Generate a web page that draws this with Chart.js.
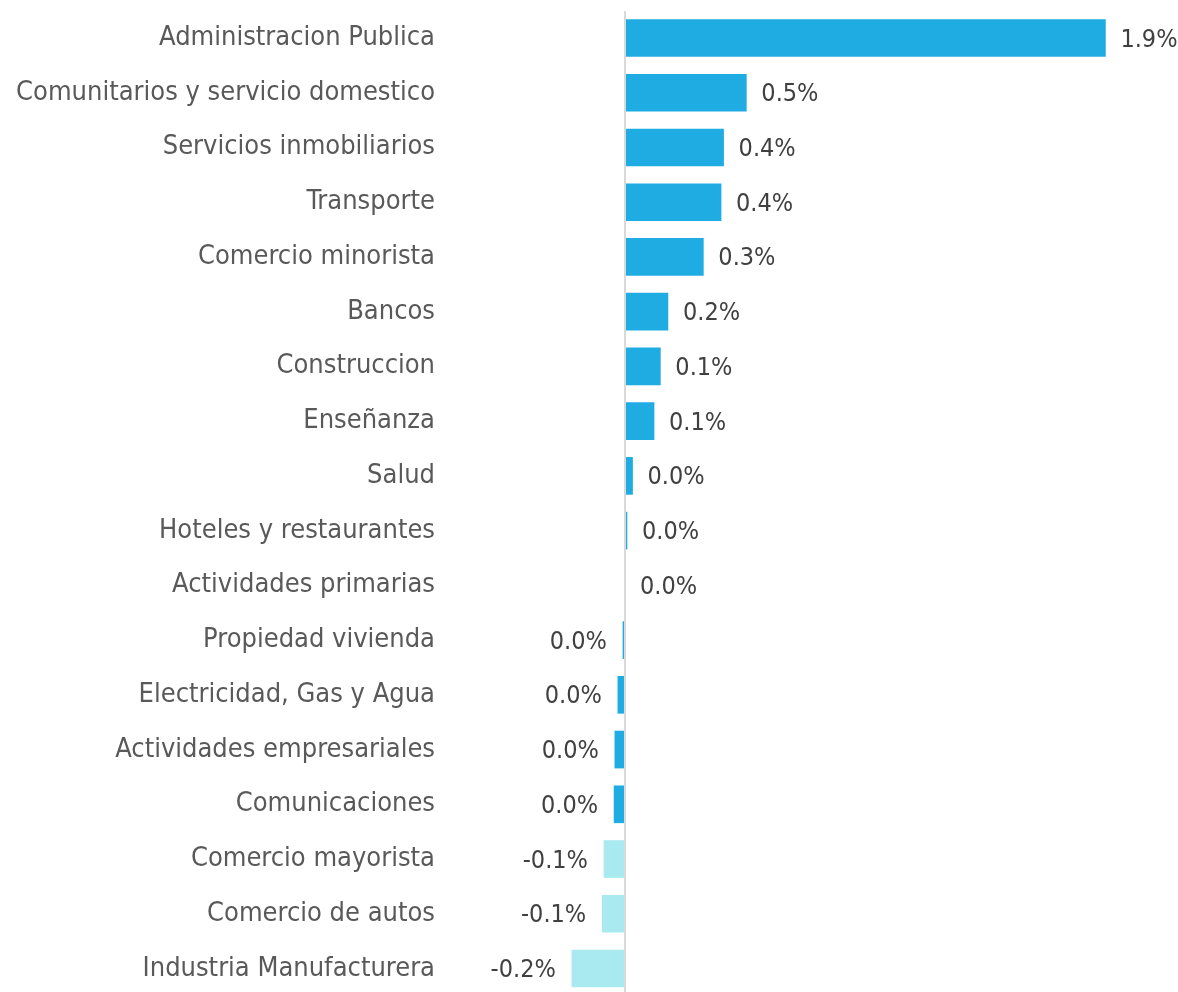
<!DOCTYPE html>
<html>
<head>
<meta charset="utf-8">
<script src="https://cdn.jsdelivr.net/npm/chart.js@4"></script>
<style>
  html, body { margin: 0; padding: 0; background: #fff; }
  #wrap { width: 1178px; height: 992px; position: relative; }
</style>
</head>
<body>
<div id="wrap"><canvas id="barChart"></canvas></div>
<script>
// data
const sectors = [
    'Administracion Publica',
    'Comunitarios y servicio domestico',
    'Servicios inmobiliarios',
    'Transporte',
    'Comercio minorista',
    'Bancos',
    'Construccion',
    'Enseñanza',
    'Salud',
    'Hoteles y restaurantes',
    'Actividades primarias',
    'Propiedad vivienda',
    'Electricidad, Gas y Agua',
    'Actividades empresariales',
    'Comunicaciones',
    'Comercio mayorista',
    'Comercio de autos',
    'Industria Manufacturera'
]
const contributions = [1.90, 0.48, 0.39, 0.38, 0.31, 0.17, 0.14, 0.115, 0.03, 0.008, 0.0,
    -0.008, -0.028, -0.04, -0.043, -0.083, -0.09, -0.21]

// colors
const barBlue = '#1FACE3'
const barLight = '#A9EAF0'
const zeroLineColor = '#d9d9d9'
const labelColor = '#595959'
const valueColor = '#404040'
const fontFamily = '"DejaVu Sans Condensed", "Roboto", sans-serif'

// rounded value decides the colour (-0.1% and below are light)
const barColors = contributions.map(v => (Math.round(v * 10) / 10 < 0 ? barLight : barBlue))

// zero line across the whole height + value labels next to bars
const extrasPlugin = {
    id: 'extras',
    afterDatasetsDraw(chart) {
        const ctx = chart.ctx
        const xScale = chart.scales.x
        const x0 = Math.round(xScale.getPixelForValue(0))
        ctx.save()
        ctx.strokeStyle = zeroLineColor
        ctx.lineWidth = 2
        ctx.beginPath()
        ctx.moveTo(x0, 11)
        ctx.lineTo(x0, chart.height)
        ctx.stroke()

        ctx.font = '25px ' + fontFamily
        ctx.fillStyle = valueColor
        ctx.textBaseline = 'middle'
        const meta = chart.getDatasetMeta(0)
        meta.data.forEach((bar, i) => {
            const v = contributions[i]
            let txt = (Math.round(v * 10) / 10).toFixed(1) + '%'
            if (txt === '-0.0%') txt = '0.0%'
            if (v >= 0) {
                ctx.textAlign = 'left'
                ctx.fillText(txt, Math.max(bar.x, x0) + 15, bar.y + 2)
            } else {
                ctx.textAlign = 'right'
                ctx.fillText(txt, Math.min(bar.x, x0) - 16, bar.y + 2)
            }
        })
        ctx.restore()
    }
}

const barChart = new Chart(document.getElementById('barChart'), {
    type: 'bar',
    data: {
        labels: sectors,
        datasets: [{
            data: contributions,
            backgroundColor: barColors,
            borderWidth: 0,
            barThickness: 37,
            clip: false
        }]
    },
    options: {
        indexAxis: 'y',
        responsive: true,
        maintainAspectRatio: false,
        animation: false,
        layout: {
            padding: { top: 38, bottom: 20, left: 0, right: 22 }
        },
        plugins: {
            legend: { display: false },
            tooltip: { enabled: false }
        },
        scales: {
            x: {
                display: false,
                min: -0.68,
                max: 2.1
            },
            y: {
                offset: false,
                grid: { display: false },
                border: { display: false },
                afterFit: (scale) => { scale.width = 453 },
                ticks: {
                    padding: 10,
                    color: labelColor,
                    font: { family: fontFamily, size: 27, lineHeight: 1 }
                }
            }
        }
    },
    plugins: [extrasPlugin]
})
</script>
</body>
</html>
